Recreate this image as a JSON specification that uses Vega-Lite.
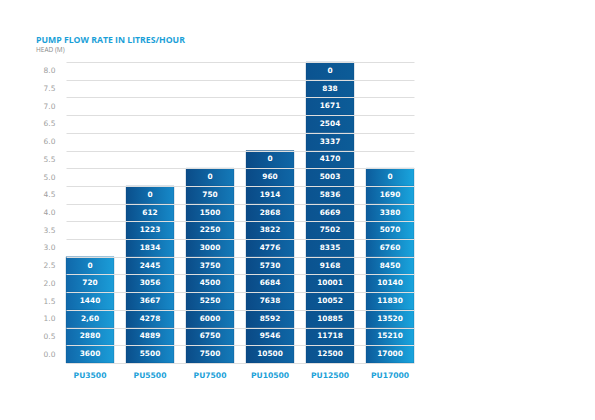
{
  "$schema": "https://vega.github.io/schema/vega-lite/v6.json",
  "autosize": "none",
  "width": 379,
  "height": 301,
  "padding": {"left": 36, "top": 62, "right": 180, "bottom": 57},
  "background": "white",
  "config": {
    "font": "Open Sans",
    "view": {"stroke": null},
    "title": {
      "anchor": "start",
      "frame": "group",
      "font": "Open Sans",
      "fontSize": 8.7,
      "fontWeight": "bold",
      "color": "#1a9fd8",
      "subtitleFont": "Open Sans",
      "subtitleFontSize": 6.5,
      "subtitleColor": "#8a8a8a",
      "subtitlePadding": 2,
      "offset": 5
    }
  },
  "title": {"text": "PUMP FLOW RATE IN LITRES/HOUR", "subtitle": "HEAD (M)"},
  "data": {
    "values": [
      {"pump": "PU3500", "head": "0.0", "flow": "3600"},
      {"pump": "PU3500", "head": "0.5", "flow": "2880"},
      {"pump": "PU3500", "head": "1.0", "flow": "2,60"},
      {"pump": "PU3500", "head": "1.5", "flow": "1440"},
      {"pump": "PU3500", "head": "2.0", "flow": "720"},
      {"pump": "PU3500", "head": "2.5", "flow": "0"},
      {"pump": "PU5500", "head": "0.0", "flow": "5500"},
      {"pump": "PU5500", "head": "0.5", "flow": "4889"},
      {"pump": "PU5500", "head": "1.0", "flow": "4278"},
      {"pump": "PU5500", "head": "1.5", "flow": "3667"},
      {"pump": "PU5500", "head": "2.0", "flow": "3056"},
      {"pump": "PU5500", "head": "2.5", "flow": "2445"},
      {"pump": "PU5500", "head": "3.0", "flow": "1834"},
      {"pump": "PU5500", "head": "3.5", "flow": "1223"},
      {"pump": "PU5500", "head": "4.0", "flow": "612"},
      {"pump": "PU5500", "head": "4.5", "flow": "0"},
      {"pump": "PU7500", "head": "0.0", "flow": "7500"},
      {"pump": "PU7500", "head": "0.5", "flow": "6750"},
      {"pump": "PU7500", "head": "1.0", "flow": "6000"},
      {"pump": "PU7500", "head": "1.5", "flow": "5250"},
      {"pump": "PU7500", "head": "2.0", "flow": "4500"},
      {"pump": "PU7500", "head": "2.5", "flow": "3750"},
      {"pump": "PU7500", "head": "3.0", "flow": "3000"},
      {"pump": "PU7500", "head": "3.5", "flow": "2250"},
      {"pump": "PU7500", "head": "4.0", "flow": "1500"},
      {"pump": "PU7500", "head": "4.5", "flow": "750"},
      {"pump": "PU7500", "head": "5.0", "flow": "0"},
      {"pump": "PU10500", "head": "0.0", "flow": "10500"},
      {"pump": "PU10500", "head": "0.5", "flow": "9546"},
      {"pump": "PU10500", "head": "1.0", "flow": "8592"},
      {"pump": "PU10500", "head": "1.5", "flow": "7638"},
      {"pump": "PU10500", "head": "2.0", "flow": "6684"},
      {"pump": "PU10500", "head": "2.5", "flow": "5730"},
      {"pump": "PU10500", "head": "3.0", "flow": "4776"},
      {"pump": "PU10500", "head": "3.5", "flow": "3822"},
      {"pump": "PU10500", "head": "4.0", "flow": "2868"},
      {"pump": "PU10500", "head": "4.5", "flow": "1914"},
      {"pump": "PU10500", "head": "5.0", "flow": "960"},
      {"pump": "PU10500", "head": "5.5", "flow": "0"},
      {"pump": "PU12500", "head": "0.0", "flow": "12500"},
      {"pump": "PU12500", "head": "0.5", "flow": "11718"},
      {"pump": "PU12500", "head": "1.0", "flow": "10885"},
      {"pump": "PU12500", "head": "1.5", "flow": "10052"},
      {"pump": "PU12500", "head": "2.0", "flow": "10001"},
      {"pump": "PU12500", "head": "2.5", "flow": "9168"},
      {"pump": "PU12500", "head": "3.0", "flow": "8335"},
      {"pump": "PU12500", "head": "3.5", "flow": "7502"},
      {"pump": "PU12500", "head": "4.0", "flow": "6669"},
      {"pump": "PU12500", "head": "4.5", "flow": "5836"},
      {"pump": "PU12500", "head": "5.0", "flow": "5003"},
      {"pump": "PU12500", "head": "5.5", "flow": "4170"},
      {"pump": "PU12500", "head": "6.0", "flow": "3337"},
      {"pump": "PU12500", "head": "6.5", "flow": "2504"},
      {"pump": "PU12500", "head": "7.0", "flow": "1671"},
      {"pump": "PU12500", "head": "7.5", "flow": "838"},
      {"pump": "PU12500", "head": "8.0", "flow": "0"},
      {"pump": "PU17000", "head": "0.0", "flow": "17000"},
      {"pump": "PU17000", "head": "0.5", "flow": "15210"},
      {"pump": "PU17000", "head": "1.0", "flow": "13520"},
      {"pump": "PU17000", "head": "1.5", "flow": "11830"},
      {"pump": "PU17000", "head": "2.0", "flow": "10140"},
      {"pump": "PU17000", "head": "2.5", "flow": "8450"},
      {"pump": "PU17000", "head": "3.0", "flow": "6760"},
      {"pump": "PU17000", "head": "3.5", "flow": "5070"},
      {"pump": "PU17000", "head": "4.0", "flow": "3380"},
      {"pump": "PU17000", "head": "4.5", "flow": "1690"},
      {"pump": "PU17000", "head": "5.0", "flow": "0"}
    ]
  },
  "encoding": {
    "x": {
      "field": "pump",
      "type": "nominal",
      "sort": ["PU3500", "PU5500", "PU7500", "PU10500", "PU12500", "PU17000"],
      "scale": {"range": [30, 378], "paddingInner": 0.2, "paddingOuter": 0},
      "axis": {
        "title": null,
        "domain": false,
        "ticks": false,
        "labelAngle": 0,
        "labelPadding": 8,
        "labelFont": "DejaVu Sans",
        "labelFontSize": 7.6,
        "labelFontWeight": "bold",
        "labelColor": "#1a9fd8"
      }
    },
    "y": {
      "field": "head",
      "type": "ordinal",
      "scale": {
        "domain": ["8.0", "7.5", "7.0", "6.5", "6.0", "5.5", "5.0", "4.5", "4.0", "3.5", "3.0", "2.5", "2.0", "1.5", "1.0", "0.5", "0.0"],
        "paddingInner": 0,
        "paddingOuter": 0
      },
      "axis": {
        "title": null,
        "domain": false,
        "ticks": false,
        "grid": true,
        "tickBand": "extent",
        "gridColor": "#dedede",
        "gridWidth": 1,
        "labelAlign": "left",
        "labelPadding": -7,
        "labelFont": "DejaVu Sans",
        "labelFontSize": 7.5,
        "labelColor": "#a0a0a0"
      }
    }
  },
  "layer": [
    {
      "transform": [{"filter": {"field": "pump", "equal": "PU3500"}}],
      "mark": {"type": "rect", "stroke": "#0a4d85", "strokeWidth": 0.6, "strokeOpacity": 0.45,
        "color": {"gradient": "linear", "x1": 0, "y1": 0, "x2": 1, "y2": 0,
          "stops": [{"offset": 0, "color": "#1068aa"}, {"offset": 1, "color": "#1b9dd8"}]}}
    },
    {
      "transform": [{"filter": {"field": "pump", "equal": "PU5500"}}],
      "mark": {"type": "rect", "stroke": "#083f70", "strokeWidth": 0.6, "strokeOpacity": 0.45,
        "color": {"gradient": "linear", "x1": 0, "y1": 0, "x2": 1, "y2": 0,
          "stops": [{"offset": 0, "color": "#0a4f8c"}, {"offset": 1, "color": "#1689c9"}]}}
    },
    {
      "transform": [{"filter": {"field": "pump", "equal": "PU7500"}}],
      "mark": {"type": "rect", "stroke": "#083f70", "strokeWidth": 0.6, "strokeOpacity": 0.45,
        "color": {"gradient": "linear", "x1": 0, "y1": 0, "x2": 1, "y2": 0,
          "stops": [{"offset": 0, "color": "#0b4c88"}, {"offset": 1, "color": "#147ab9"}]}}
    },
    {
      "transform": [{"filter": {"field": "pump", "equal": "PU10500"}}],
      "mark": {"type": "rect", "stroke": "#083f70", "strokeWidth": 0.6, "strokeOpacity": 0.45,
        "color": {"gradient": "linear", "x1": 0, "y1": 0, "x2": 1, "y2": 0,
          "stops": [{"offset": 0, "color": "#0a4a86"}, {"offset": 1, "color": "#0f67a7"}]}}
    },
    {
      "transform": [{"filter": {"field": "pump", "equal": "PU12500"}}],
      "mark": {"type": "rect", "stroke": "#083f70", "strokeWidth": 0.6, "strokeOpacity": 0.45,
        "color": {"gradient": "linear", "x1": 0, "y1": 0, "x2": 1, "y2": 0,
          "stops": [{"offset": 0, "color": "#0b5390"}, {"offset": 1, "color": "#0c5c98"}]}}
    },
    {
      "transform": [{"filter": {"field": "pump", "equal": "PU17000"}}],
      "mark": {"type": "rect", "stroke": "#0a4d85", "strokeWidth": 0.6, "strokeOpacity": 0.45,
        "color": {"gradient": "linear", "x1": 0, "y1": 0, "x2": 1, "y2": 0,
          "stops": [{"offset": 0, "color": "#0c5c9c"}, {"offset": 1, "color": "#19a5de"}]}}
    },
    {
      "mark": {"type": "text", "color": "white", "font": "DejaVu Sans", "fontWeight": "bold", "fontSize": 7.4},
      "encoding": {"text": {"field": "flow", "type": "nominal"}}
    }
  ]
}
